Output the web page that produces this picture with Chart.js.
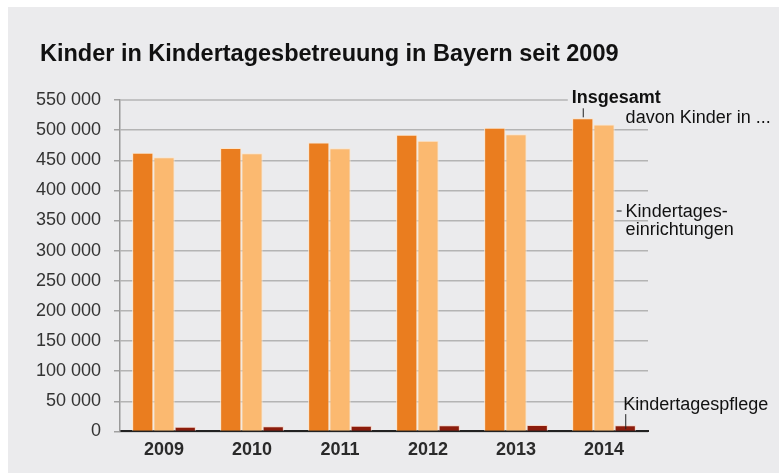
<!DOCTYPE html>
<html>
<head>
<meta charset="utf-8">
<script src="https://cdn.jsdelivr.net/npm/chart.js@4"></script>
<style>
    html, body { margin: 0; padding: 0; background: #ffffff; }
    canvas { display: block; }
</style>
</head>
<body>
<canvas id="chart" width="779" height="473"></canvas>
<script>
// Kinder in Kindertagesbetreuung in Bayern
const years = ["2009", "2010", "2011", "2012", "2013", "2014"];
const insgesamt = [462500, 470300, 479300, 492200, 503800, 519600];
const kindertageseinrichtungen = [454800, 461800, 470000, 482200, 493300, 509200];
const kindertagespflege = [7700, 8500, 9300, 10000, 10500, 10400];

const yMin = 0;
const yMax = 550000;
const yStep = 50000;

const FONT = "'Liberation Sans', Arial, Helvetica, sans-serif";

function formatNumber(value) {
    return String(value).replace(/\B(?=(\d{3})+(?!\d))/g, " ");
}

// background panel, title and the right hand labels
const decorations = {
    id: "decorations",
    beforeDraw(chart) {
        const ctx = chart.ctx;
        ctx.save();
        ctx.fillStyle = "#ebebed";
        ctx.fillRect(8, 7, chart.width - 8, chart.height - 7);
        ctx.restore();
    },
    beforeDatasetsDraw(chart) {
        const ctx = chart.ctx;
        const y = chart.scales.y;
        const ins = chart.getDatasetMeta(0).data[years.length - 1];
        const top = y.getPixelForValue(yMax);
        // top grid line stops before "Insgesamt"
        ctx.save();
        ctx.strokeStyle = "#b4b4b4";
        ctx.lineWidth = 1.5;
        ctx.beginPath();
        ctx.moveTo(chart.chartArea.left, top);
        ctx.lineTo(ins.x - 15, top);
        ctx.stroke();
        ctx.restore();
    },
    afterDatasetsDraw(chart) {
        const ctx = chart.ctx;
        const last = years.length - 1;
        const ins = chart.getDatasetMeta(0).data[last];
        const kita = chart.getDatasetMeta(1).data[last];
        const pfl = chart.getDatasetMeta(2).data[last];

        ctx.save();
        ctx.fillStyle = "#111111";
        ctx.textBaseline = "alphabetic";
        ctx.textAlign = "left";

        // title
        ctx.font = "bold 23.5px " + FONT;
        ctx.fillText("Kinder in Kindertagesbetreuung in Bayern seit 2009", 40, 61);

        ctx.strokeStyle = "#222222";
        ctx.lineWidth = 1;

        // Insgesamt
        ctx.font = "bold 18px " + FONT;
        ctx.fillText("Insgesamt", ins.x - 11, ins.y - 15);
        ctx.beginPath();
        ctx.moveTo(ins.x + 0.5, ins.y - 1);
        ctx.lineTo(ins.x + 0.5, ins.y - 10);
        ctx.stroke();

        ctx.font = "18px " + FONT;
        ctx.fillText("davon Kinder in ...", kita.x + kita.width / 2 + 11, ins.y + 5);

        // Kindertageseinrichtungen
        const kx = kita.x + kita.width / 2 + 2;
        ctx.beginPath();
        ctx.moveTo(kx, 211);
        ctx.lineTo(kx + 5, 211);
        ctx.stroke();
        ctx.fillText("Kindertages-", kx + 9, 217);
        ctx.fillText("einrichtungen", kx + 9, 235);

        // Kindertagespflege
        ctx.beginPath();
        ctx.moveTo(pfl.x + 0.5, pfl.y + 4);
        ctx.lineTo(pfl.x + 0.5, pfl.y - 11);
        ctx.stroke();
        ctx.fillText("Kindertagespflege", pfl.x - 2, pfl.y - 15);
        ctx.restore();
    }
};

const ctx = document.getElementById("chart").getContext("2d");

new Chart(ctx, {
    type: "bar",
    data: {
        labels: years,
        datasets: [{
            label: "Insgesamt",
            data: insgesamt,
            backgroundColor: "#ea7d1f",
            borderColor: "#fde6cc",
            borderWidth: 1
        }, {
            label: "Kindertageseinrichtungen",
            data: kindertageseinrichtungen,
            backgroundColor: "#fbb970",
            borderColor: "#fde6cc",
            borderWidth: 1
        }, {
            label: "Kindertagespflege",
            data: kindertagespflege,
            backgroundColor: "#8c1c0c",
            borderColor: "#f6d6c6",
            borderWidth: 1
        }]
    },
    options: {
        responsive: false,
        devicePixelRatio: 1,
        animation: false,
        categoryPercentage: 0.724,
        barPercentage: 1,
        layout: {
            padding: { left: 0, top: 100, right: 131, bottom: 4 }
        },
        plugins: {
            legend: { display: false },
            title: { display: false },
            tooltip: { enabled: false }
        },
        scales: {
            x: {
                grid: { display: false, drawTicks: false },
                border: { display: true, color: "#222222", width: 2 },
                ticks: {
                    color: "#2a2a2a",
                    padding: 8,
                    font: { family: FONT, size: 18, weight: "bold" }
                }
            },
            y: {
                min: yMin,
                max: yMax,
                afterFit(scale) {
                    scale.width = 120;
                },
                grid: {
                    color: (c) => (c.tick && c.tick.value === yMax) ? "rgba(0,0,0,0)" : "#b4b4b4",
                    tickColor: "#a0a0a0",
                    lineWidth: 1.5,
                    tickLength: 6
                },
                border: { color: "#999999", width: 1.5 },
                ticks: {
                    stepSize: yStep,
                    color: "#333333",
                    padding: 13,
                    font: { family: FONT, size: 18 },
                    callback: (value) => formatNumber(value)
                }
            }
        }
    },
    plugins: [decorations]
});
</script>
</body>
</html>
